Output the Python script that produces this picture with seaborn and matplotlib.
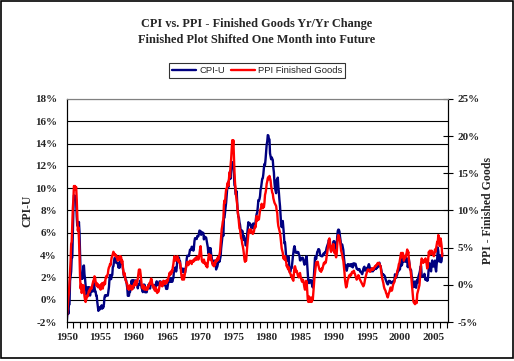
import numpy as np
import pandas as pd
import matplotlib
matplotlib.use("Agg")
import matplotlib.pyplot as plt
import seaborn as sns
from matplotlib.patches import Rectangle

# monthly year/year change, Jan 1950 - May 2006
cpi_u = [
    -2.08, -1.26, -0.84, -1.26, -0.42, -0.42, 1.69, 2.11, 2.53, 3.80, 3.78, 5.93,   # 1950
    8.07, 9.36, 9.32, 9.32, 9.28, 8.82, 7.47, 6.64, 6.62, 6.57, 6.97, 6.05,         # 1951
    4.33, 2.28, 1.87, 2.28, 1.87, 2.28, 3.03, 3.07, 2.26, 1.87, 1.28, 0.88,         # 1952
    0.37, 0.75, 1.12, 0.75, 1.12, 1.11, 0.37, 0.74, 0.74, 1.10, 0.74, 0.74,         # 1953
    1.10, 1.49, 1.11, 0.74, 0.74, 0.37, 0.37, -0.20, -0.60, -1.00, -0.70, -0.90,    # 1954
    -0.70, -0.80, -0.60, -0.50, -0.80, -0.60, -0.70, -0.40, 0.20, 0.40, 0.30, 0.40,  # 1955
    0.37, 0.37, 0.37, 0.74, 1.12, 1.85, 2.22, 1.85, 1.85, 2.21, 2.21, 2.94,         # 1956
    2.99, 3.36, 3.73, 3.72, 3.71, 3.31, 3.29, 3.28, 3.27, 2.90, 3.25, 2.86,         # 1957
    3.62, 3.22, 3.58, 3.57, 3.21, 2.85, 2.48, 2.12, 2.11, 2.11, 1.76, 1.76,         # 1958
    1.40, 1.05, 0.35, 0.35, 0.35, 0.69, 0.69, 1.04, 1.38, 1.73, 1.38, 1.73,         # 1959
    1.03, 1.73, 1.72, 1.72, 1.72, 1.72, 1.37, 1.37, 1.02, 1.36, 1.36, 1.36,         # 1960
    1.71, 1.36, 1.36, 1.01, 0.94, 0.68, 1.35, 1.01, 1.35, 0.67, 0.67, 0.67,         # 1961
    0.67, 1.01, 1.01, 1.34, 1.34, 1.34, 1.00, 1.34, 1.33, 1.33, 1.33, 1.33,         # 1962
    1.33, 1.00, 1.33, 0.99, 0.99, 1.32, 1.65, 1.32, 1.32, 1.32, 1.32, 1.64,         # 1963
    1.64, 1.64, 1.31, 1.31, 1.31, 1.31, 1.30, 1.30, 1.30, 1.30, 1.30, 0.97,         # 1964
    0.97, 0.97, 1.29, 1.62, 1.62, 1.94, 1.62, 1.94, 1.62, 1.94, 1.61, 1.92,         # 1965
    1.92, 2.56, 2.56, 2.87, 2.87, 2.53, 2.85, 3.48, 3.48, 3.79, 3.79, 3.46,         # 1966
    3.46, 2.81, 2.80, 2.48, 2.79, 2.78, 2.77, 2.45, 2.75, 2.43, 2.74, 3.04,         # 1967
    3.65, 3.95, 3.94, 3.93, 3.92, 4.20, 4.49, 4.48, 4.46, 4.75, 4.73, 4.72,         # 1968
    4.40, 4.68, 5.25, 5.52, 5.51, 5.48, 5.44, 5.71, 5.70, 5.68, 5.93, 6.20,         # 1969
    6.18, 6.15, 5.82, 6.06, 6.04, 6.01, 5.98, 5.41, 5.66, 5.63, 5.60, 5.57,         # 1970
    5.29, 5.00, 4.71, 4.16, 4.40, 4.64, 4.36, 4.62, 4.08, 3.81, 3.28, 3.27,         # 1971
    3.27, 3.51, 3.50, 3.49, 3.23, 2.71, 2.95, 2.94, 3.19, 3.42, 3.67, 3.41,         # 1972
    3.65, 3.87, 4.59, 5.06, 5.53, 5.99, 5.73, 7.38, 7.36, 7.80, 8.25, 8.71,         # 1973
    9.39, 10.02, 10.39, 10.09, 10.71, 10.86, 11.51, 10.86, 11.95, 12.06, 12.20, 12.34,  # 1974
    11.80, 11.23, 10.25, 10.21, 9.47, 9.39, 9.72, 8.60, 7.91, 7.44, 7.38, 6.94,     # 1975
    6.72, 6.29, 6.07, 6.05, 6.20, 5.97, 5.35, 5.71, 5.49, 5.46, 4.88, 4.86,         # 1976
    5.22, 5.91, 6.44, 6.95, 6.73, 6.87, 6.83, 6.62, 6.60, 6.39, 6.72, 6.70,         # 1977
    6.84, 6.43, 6.55, 6.50, 6.97, 7.41, 7.70, 7.84, 8.31, 8.93, 8.89, 9.02,         # 1978
    9.28, 9.86, 10.09, 10.49, 10.85, 10.89, 11.26, 11.82, 12.18, 12.07, 12.61, 13.29,  # 1979
    13.91, 14.18, 14.76, 14.73, 14.41, 14.38, 13.13, 12.87, 12.60, 12.77, 12.65, 12.52,  # 1980
    11.83, 11.41, 10.49, 10.00, 9.78, 9.55, 10.76, 10.80, 10.95, 10.14, 9.59, 8.92,  # 1981
    8.39, 7.62, 6.78, 6.51, 6.68, 7.06, 6.44, 5.85, 5.04, 5.14, 4.59, 3.83,         # 1982
    3.71, 3.49, 3.60, 3.90, 3.55, 2.58, 2.46, 2.56, 2.86, 2.85, 3.27, 3.79,         # 1983
    4.19, 4.60, 4.80, 4.56, 4.23, 4.22, 4.20, 4.29, 4.27, 4.26, 4.05, 3.95,         # 1984
    3.53, 3.52, 3.70, 3.69, 3.77, 3.76, 3.55, 3.35, 3.14, 3.23, 3.51, 3.80,         # 1985
    3.89, 3.11, 2.26, 1.59, 1.49, 1.77, 1.58, 1.57, 1.75, 1.47, 1.28, 1.10,         # 1986
    1.46, 2.10, 3.03, 3.78, 3.86, 3.65, 3.93, 4.28, 4.36, 4.53, 4.53, 4.43,         # 1987
    4.05, 3.94, 3.93, 3.90, 3.89, 3.96, 4.13, 4.02, 4.17, 4.25, 4.25, 4.42,         # 1988
    4.67, 4.83, 4.98, 5.12, 5.36, 5.17, 4.98, 4.71, 4.34, 4.49, 4.66, 4.65,         # 1989
    5.20, 5.26, 5.23, 4.71, 4.36, 4.67, 4.82, 5.62, 6.16, 6.29, 6.27, 6.11,         # 1990
    5.65, 5.31, 4.90, 4.89, 4.95, 4.70, 4.45, 3.80, 3.39, 2.92, 2.99, 3.06,         # 1991
    2.60, 2.82, 3.19, 3.18, 3.02, 3.09, 3.16, 3.15, 2.99, 3.20, 3.05, 2.90,         # 1992
    3.26, 3.25, 3.09, 3.23, 3.22, 3.00, 2.78, 2.77, 2.69, 2.75, 2.68, 2.75,         # 1993
    2.52, 2.52, 2.51, 2.36, 2.29, 2.49, 2.77, 2.90, 2.96, 2.61, 2.67, 2.67,         # 1994
    2.80, 2.86, 2.85, 3.05, 3.19, 3.04, 2.76, 2.62, 2.54, 2.81, 2.61, 2.54,         # 1995
    2.73, 2.65, 2.84, 2.90, 2.89, 2.75, 2.95, 2.88, 3.00, 2.99, 3.26, 3.32,         # 1996
    3.04, 3.03, 2.76, 2.50, 2.23, 2.30, 2.23, 2.23, 2.15, 2.08, 1.83, 1.70,         # 1997
    1.57, 1.44, 1.37, 1.44, 1.69, 1.68, 1.68, 1.62, 1.49, 1.49, 1.55, 1.61,         # 1998
    1.67, 1.61, 1.73, 2.28, 2.09, 1.96, 2.14, 2.26, 2.63, 2.56, 2.62, 2.68,         # 1999
    2.74, 3.22, 3.76, 3.07, 3.19, 3.73, 3.66, 3.41, 3.45, 3.45, 3.45, 3.39,         # 2000
    3.73, 3.53, 2.92, 3.27, 3.62, 3.25, 2.72, 2.72, 2.65, 2.13, 1.90, 1.55,         # 2001
    1.14, 1.14, 1.48, 1.64, 1.18, 1.07, 1.46, 1.80, 1.51, 2.03, 2.20, 2.38,         # 2002
    2.60, 2.98, 3.02, 2.22, 2.06, 2.11, 2.11, 2.16, 2.32, 2.04, 1.77, 1.88,         # 2003
    1.93, 1.69, 1.74, 2.29, 3.05, 3.27, 2.99, 2.65, 2.54, 3.19, 3.52, 3.26,         # 2004
    2.97, 3.01, 3.15, 3.51, 2.80, 2.53, 3.17, 3.64, 4.69, 4.35, 3.46, 3.42,         # 2005
    3.99, 3.60, 3.36, 3.55, 4.17,                                                   # 2006
]

ppi_finished = [
    -4.40, -3.80, -2.75, -1.70, -1.10, 0.25, 1.75, 3.25, 5.50, 5.80, 7.90, 10.30,   # 1950
    11.50, 13.30, 13.15, 13.30, 12.85, 13.15, 11.50, 9.25, 7.30, 7.75, 6.25, 4.00,  # 1951
    1.15, -0.50, 0.10, -1.10, -0.50, -0.65, -0.05, -0.80, -1.55, -2.00, -2.30, -2.00,  # 1952
    -1.70, -1.40, -1.55, -1.10, -0.80, -0.95, -0.50, -0.65, -0.35, -0.50, -0.05, 0.25,  # 1953
    0.55, 0.70, 1.15, 1.00, 0.40, -0.05, 0.25, -0.20, 0.10, -0.35, -0.05, -0.20,    # 1954
    -0.20, -0.65, 0.10, -0.35, 0.25, -0.50, 0.25, -0.05, 0.40, 0.10, 0.85, 1.15,    # 1955
    1.00, 1.30, 1.45, 2.05, 2.35, 2.50, 2.80, 2.65, 3.25, 3.70, 3.85, 4.15,         # 1956
    4.45, 4.30, 4.00, 4.15, 3.85, 4.00, 3.70, 3.55, 3.25, 3.70, 3.40, 3.85,         # 1957
    3.40, 3.85, 3.70, 2.95, 3.25, 2.50, 1.75, 1.30, 1.60, 1.00, 0.70, 0.40,         # 1958
    0.25, 0.10, -0.50, -0.20, -0.65, -0.35, -0.05, -0.50, -0.20, -0.65, -0.35, -0.50,  # 1959
    -0.05, -0.20, 0.25, 0.10, 0.55, -0.05, 0.25, 0.40, 0.85, 1.45, 2.05, 1.90,      # 1960
    2.05, 1.45, 0.70, -0.05, -0.35, -0.50, -0.05, -0.20, -0.65, -0.50, -0.35, -0.65,  # 1961
    -0.50, -0.65, -0.20, -0.35, -0.05, 0.25, 0.10, 0.55, 0.85, 0.70, 0.10, -0.20,   # 1962
    -0.05, -0.50, -0.65, -0.80, -0.35, -0.50, -0.95, -1.10, -0.80, -0.95, -0.65, -0.20,  # 1963
    0.10, 0.40, -0.05, 0.25, -0.20, 0.10, 0.55, 0.25, 0.40, 0.10, 0.55, 0.40,       # 1964
    0.25, 0.70, 0.55, 1.00, 1.15, 1.60, 1.30, 1.75, 1.45, 1.90, 1.75, 2.35,         # 1965
    2.80, 3.40, 3.85, 3.55, 3.25, 3.70, 3.40, 3.85, 3.55, 3.10, 3.40, 2.95,         # 1966
    2.95, 2.50, 1.60, 1.00, 0.70, 1.30, 0.85, 0.70, 1.15, 1.60, 2.05, 2.35,         # 1967
    2.80, 3.10, 2.95, 2.65, 3.10, 2.95, 3.25, 2.95, 3.10, 2.80, 3.25, 3.10,         # 1968
    3.10, 3.40, 3.25, 3.55, 3.40, 3.70, 3.40, 3.55, 3.85, 3.40, 3.70, 4.15,         # 1969
    4.75, 5.20, 4.30, 3.40, 3.10, 3.25, 2.95, 3.40, 3.10, 2.80, 2.95, 2.50,         # 1970
    2.65, 2.35, 2.95, 3.55, 4.15, 3.70, 3.40, 4.00, 3.55, 3.25, 2.95, 2.65,         # 1971
    2.80, 2.50, 2.95, 2.65, 3.25, 3.10, 3.40, 3.25, 3.70, 3.40, 3.85, 4.00,         # 1972
    4.45, 5.50, 6.70, 7.45, 7.90, 8.50, 8.80, 10.75, 11.35, 11.05, 12.10, 12.85,    # 1973
    12.85, 13.45, 13.75, 13.30, 14.20, 15.10, 14.50, 16.00, 16.90, 18.25, 19.45, 18.55,  # 1974
    19.45, 17.20, 15.25, 13.75, 12.85, 11.95, 11.35, 10.75, 9.70, 9.25, 8.35, 7.60,  # 1975
    7.45, 6.85, 6.25, 6.10, 5.50, 5.20, 4.75, 4.15, 3.40, 3.10, 3.40, 3.25,         # 1976
    4.30, 5.20, 6.10, 6.85, 7.30, 7.45, 7.00, 7.30, 7.45, 7.15, 7.00, 6.85,         # 1977
    7.00, 7.15, 7.60, 7.90, 7.75, 8.50, 9.25, 8.65, 8.95, 9.10, 8.80, 9.40,         # 1978
    10.00, 10.15, 10.45, 10.90, 10.60, 10.30, 10.75, 10.45, 11.05, 12.10, 12.40, 12.85,  # 1979
    13.60, 13.90, 14.35, 14.50, 14.20, 14.65, 14.35, 14.05, 13.30, 12.85, 12.40, 12.25,  # 1980
    11.65, 11.35, 11.05, 10.90, 10.75, 10.60, 10.00, 9.70, 8.50, 7.90, 7.60, 7.30,  # 1981
    7.00, 6.40, 5.65, 4.90, 4.60, 4.30, 3.55, 3.70, 3.40, 3.85, 3.40, 3.10,         # 1982
    2.50, 2.65, 2.20, 2.05, 2.35, 1.75, 1.60, 1.45, 1.15, 1.30, 0.85, 0.70,         # 1983
    0.55, 1.45, 2.35, 2.50, 2.20, 1.75, 1.90, 1.60, 1.30, 1.15, 1.00, 1.45,         # 1984
    1.60, 1.15, 0.85, 0.55, 0.40, 0.70, 0.55, 0.10, -0.35, -0.65, -0.20, 0.55,      # 1985
    0.40, -0.80, -2.00, -2.30, -1.55, -1.85, -2.30, -2.15, -1.70, -2.30, -1.85, -2.00,  # 1986
    -1.10, -0.05, 1.00, 1.60, 2.35, 2.95, 3.10, 2.80, 3.10, 2.65, 2.35, 2.05,       # 1987
    1.90, 2.05, 1.75, 2.20, 2.05, 2.35, 2.65, 2.95, 2.80, 3.10, 2.95, 3.25,         # 1988
    3.85, 4.30, 4.90, 5.35, 6.10, 6.25, 5.80, 4.90, 4.45, 4.90, 5.20, 4.75,         # 1989
    5.50, 4.90, 4.30, 4.60, 4.00, 3.70, 4.15, 5.35, 6.25, 6.70, 6.55, 6.25,         # 1990
    5.95, 5.20, 4.60, 4.30, 4.00, 3.55, 3.25, 2.50, 1.75, 0.70, 0.10, -0.35,        # 1991
    -0.20, 0.25, 0.70, 0.85, 1.15, 1.30, 1.15, 1.45, 1.30, 1.60, 1.75, 1.60,        # 1992
    1.75, 1.90, 1.60, 1.45, 1.15, 1.00, 0.70, 0.85, 1.00, 1.30, 1.15, 0.85,         # 1993
    0.70, 0.55, 0.40, 0.25, 0.10, -0.05, -0.20, -0.05, 0.25, 0.70, 1.00, 1.30,      # 1994
    1.60, 1.75, 2.05, 1.90, 2.05, 1.90, 1.75, 1.90, 2.05, 2.20, 2.05, 2.20,         # 1995
    2.05, 2.20, 2.35, 2.50, 2.50, 2.65, 2.65, 2.80, 2.95, 2.80, 2.95, 2.80,         # 1996
    2.65, 2.50, 1.90, 1.30, 0.85, 0.55, 0.25, -0.20, -0.50, -0.65, -0.80, -1.10,    # 1997
    -1.25, -1.55, -1.70, -1.40, -1.10, -0.95, -0.65, -0.35, -0.50, -0.80, -0.65, -0.20,  # 1998
    0.10, 0.25, 0.40, 0.85, 1.00, 1.15, 1.45, 1.75, 2.05, 2.35, 2.80, 2.95,         # 1999
    3.40, 3.85, 4.30, 3.70, 4.00, 4.30, 4.00, 3.25, 3.55, 3.85, 3.70, 4.00,         # 2000
    4.30, 4.75, 4.15, 4.45, 3.40, 2.80, 2.35, 1.90, 1.30, 0.40, -0.35, -1.25,       # 2001
    -2.15, -2.40, -2.45, -2.60, -2.45, -2.15, -2.45, -1.25, -0.95, -0.65, -0.35, -0.05,  # 2002
    1.00, 1.90, 2.95, 3.55, 3.40, 3.10, 2.95, 3.25, 3.10, 3.40, 3.55, 3.25,         # 2003
    2.80, 2.20, 2.50, 3.70, 4.45, 4.00, 4.60, 4.30, 4.15, 4.60, 4.45, 4.30,         # 2004
    4.00, 3.85, 4.15, 4.75, 4.45, 4.90, 5.35, 5.80, 5.65, 6.70, 6.25, 5.35,         # 2005
    5.20, 6.25, 5.80, 5.20, 3.85,                                                   # 2006
]

start_year = 1950
year_ticks = list(range(1950, 2006, 5))
cpi_ticks = list(range(-2, 19, 2))
ppi_ticks = list(range(-5, 26, 5))

df = pd.DataFrame({"cpi": cpi_u, "ppi": ppi_finished})
df["year"] = start_year + np.arange(len(df)) / 12.0

sns.set_style("white")
plt.rcParams["font.family"] = ["Liberation Serif", "DejaVu Serif"]

fig = plt.figure(figsize=(5.14, 3.61), dpi=100)
fig.subplots_adjust(left=0.1298, right=0.8722, bottom=0.108, top=0.7258)
ax = fig.add_subplot(111)
ax2 = ax.twinx()

sns.lineplot(data=df, x="year", y="cpi", ax=ax, color="#000080", lw=1.7, legend=False)
sns.lineplot(data=df, x="year", y="ppi", ax=ax2, color="#ff0000", lw=1.7, legend=False)

ax.set_xlim(1950, 2007.25)
ax.set_ylim(-2, 18)
ax2.set_ylim(-5, 25)

ax.set_yticks(cpi_ticks)
ax.set_yticklabels([f"{v}%" for v in cpi_ticks], fontsize=8, fontweight="bold")
ax2.set_yticks(ppi_ticks)
ax2.set_yticklabels([f"{v}%" for v in ppi_ticks], fontsize=8, fontweight="bold")
ax.set_xticks(year_ticks)
ax.set_xticklabels([str(y) for y in year_ticks], fontsize=8, fontweight="bold")
ax.set_xticks(range(1950, 2008), minor=True)

ax.tick_params(axis="y", length=0, pad=7)
ax.tick_params(axis="x", which="both", direction="out", length=4, width=0.8,
               color="black", bottom=True, pad=4)
ax2.tick_params(axis="y", direction="inout", length=7, width=0.8, color="black", pad=3)

ax.yaxis.grid(True, color="black", lw=0.8)
ax.xaxis.grid(False)
ax.get_ygridlines()[-1].set_color("#808080")

for a in (ax, ax2):
    for s in a.spines.values():
        s.set_color("black")
        s.set_linewidth(0.8)
    a.spines["top"].set_color("#808080")

ax.set_xlabel("")
ax.set_ylabel("CPI-U", fontsize=8.5, fontweight="bold", labelpad=1)
ax2.set_ylabel("PPI - Finished Goods", fontsize=8.5, fontweight="bold", labelpad=2)

fig.text(0.5, 1 - 24 / 361, "CPI vs. PPI - Finished Goods Yr/Yr Change",
         ha="center", va="center", fontsize=8.8, fontweight="bold")
fig.text(0.5, 1 - 40 / 361, "Finished Plot Shifted One Month into Future",
         ha="center", va="center", fontsize=8.8, fontweight="bold")

leg = fig.legend(handles=[ax.lines[0], ax2.lines[0]], labels=["CPI-U", "PPI Finished Goods"],
                 loc="center", bbox_to_anchor=(0.5, 1 - 70.5 / 361), ncol=2,
                 frameon=True, fancybox=False, handlelength=2.6, handletextpad=0.3,
                 columnspacing=0.6, borderpad=0.3, prop={"family": "Liberation Sans", "size": 6.8})
leg.get_frame().set_edgecolor("black")
leg.get_frame().set_linewidth(0.8)

fig.add_artist(Rectangle((0.5 / 514, 2.7 / 361), 512.5 / 514, 357.8 / 361,
                         transform=fig.transFigure, fill=False, ec="black", lw=1.2))

fig.savefig("out.png", dpi=100)
